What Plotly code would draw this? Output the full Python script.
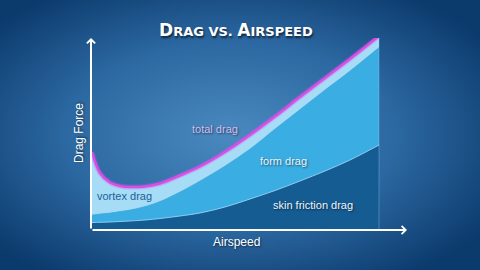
import base64
import numpy as np
import plotly.graph_objects as go

# ---- data (arbitrary units) ----
airspeed = [1, 9, 19, 29, 39, 54, 69, 89, 109, 134, 159, 184, 209, 234, 259, 288]
skin_friction = [7.5, 7.7, 8, 8.5, 9, 10, 11.5, 14, 17, 23, 31, 39.5, 49, 59, 70, 85]
form_drag = [7.5, 8.3, 9, 10, 11, 13.5, 17, 24, 32, 41, 50, 61.5, 71.5, 81, 89, 97.5]
vortex_drag = [63, 41, 30.5, 25.5, 23, 20, 18, 16.5, 14.5, 14, 14, 12.5, 12.5, 12, 12, 11.5]

total_drag = (np.array(skin_friction) + np.array(form_drag) + np.array(vortex_drag)).tolist()

W, H = 480, 270
ML, MR, MT, MB = 91, 73, 38, 40
PW, PH = W - ML - MR, H - MT - MB
X_MAX, Y_MAX = PW, PH

fig = go.Figure()

fig.add_trace(go.Scatter(x=airspeed, y=skin_friction, stackgroup="d", mode="lines",
                         line=dict(color="rgba(150,210,245,0.9)", width=1, shape="spline", smoothing=1),
                         fillcolor="#155c93", name="skin friction drag"))
fig.add_trace(go.Scatter(x=airspeed, y=form_drag, stackgroup="d", mode="lines",
                         line=dict(color="#3aade2", width=0.5, shape="spline", smoothing=1),
                         fillcolor="#3aade2", name="form drag"))
fig.add_trace(go.Scatter(x=airspeed, y=vortex_drag, stackgroup="d", mode="lines",
                         line=dict(color="#a6dcf6", width=0.5, shape="spline", smoothing=1),
                         fillcolor="#a6dcf6", name="vortex drag"))
# glow + total line
fig.add_trace(go.Scatter(x=airspeed, y=total_drag, mode="lines",
                         line=dict(color="rgba(220,80,240,0.3)", width=5, shape="spline", smoothing=1),
                         hoverinfo="skip"))
fig.add_trace(go.Scatter(x=airspeed, y=total_drag, mode="lines",
                         line=dict(color="#d94fe6", width=2.5, shape="spline", smoothing=1),
                         name="total drag"))

# faint right edge of the stacked areas
fig.add_shape(type="line", xref="x", yref="y", x0=airspeed[-1], x1=airspeed[-1],
              y0=0, y1=total_drag[-1], line=dict(color="rgba(150,210,245,0.35)", width=1))

svg = f"""<svg xmlns='http://www.w3.org/2000/svg' width='{W}' height='{H}' preserveAspectRatio='none'>
<defs><radialGradient id='g' cx='0.48' cy='0.5' r='0.64'>
<stop offset='0' stop-color='#4a8ac0'/>
<stop offset='0.55' stop-color='#2b67a0'/>
<stop offset='1' stop-color='#0b3a6c'/>
</radialGradient></defs>
<rect width='{W}' height='{H}' fill='url(#g)'/></svg>"""
src = "data:image/svg+xml;base64," + base64.b64encode(svg.encode()).decode()

fig.add_layout_image(dict(source=src, xref="paper", yref="paper",
                          x=-ML / PW, y=(PH + MT) / PH, sizex=W / PW, sizey=H / PH,
                          sizing="stretch", layer="below", xanchor="left", yanchor="top"))

shadow = "1px 1px 2px rgba(0,0,0,0.55)"
LF = "Liberation Sans, Arial, sans-serif"


def px(x):
    return x / PW


def py(y):
    return y / PH


def label(x, y, text, font, xanchor="center", **kw):
    return dict(x=px(x), y=py(y), xref="paper", yref="paper", text=text, showarrow=False,
                xanchor=xanchor, yanchor="middle", font=font, **kw)


anns = []
# axes with arrows
anns.append(dict(x=X_MAX, y=0, ax=0, ay=0, xref="x", yref="y", axref="x", ayref="y",
                 showarrow=True, arrowhead=4, arrowsize=0.8, arrowwidth=2, arrowcolor="white", text=""))
anns.append(dict(x=0, y=Y_MAX, ax=0, ay=0, xref="x", yref="y", axref="x", ayref="y",
                 showarrow=True, arrowhead=4, arrowsize=0.8, arrowwidth=2, arrowcolor="white", text=""))
# axis titles
anns.append(label(-12, 97, "Drag Force", dict(family=LF, size=12, color="white", shadow=shadow),
                  textangle=-90))
anns.append(label(145, -12, "Airspeed", dict(family=LF, size=12, color="white", shadow=shadow)))
# series labels
anns.append(label(124, 101, "total drag", dict(family=LF, size=11, color="#d2bdf0", shadow=shadow)))
anns.append(label(192, 69, "form drag", dict(family=LF, size=11, color="#eaf4fc", shadow=shadow)))
anns.append(label(4, 34, "vortex drag", dict(family=LF, size=11, color="#1d6096"), xanchor="left"))
anns.append(label(222, 25, "skin friction drag", dict(family=LF, size=11, color="#eef6fd", shadow=shadow)))
# title in small caps
big, small = 17, 13
title = (f"<span style='font-size:{big}px'>D</span><span style='font-size:{small}px'>RAG VS. </span>"
         f"<span style='font-size:{big}px'>A</span><span style='font-size:{small}px'>IRSPEED</span>")
anns.append(label(145, 200, f"<b>{title}</b>",
                  dict(family="DejaVu Sans, sans-serif", size=big, color="white",
                       shadow="1px 2px 2px rgba(0,0,0,0.6)")))

fig.update_layout(
    width=W, height=H, margin=dict(l=ML, r=MR, t=MT, b=MB),
    paper_bgcolor="#1d5790", plot_bgcolor="rgba(0,0,0,0)",
    showlegend=False, annotations=anns,
    xaxis=dict(range=[0, X_MAX], visible=False, fixedrange=True),
    yaxis=dict(range=[0, Y_MAX], visible=False, fixedrange=True),
)

fig.write_html("out.html", config={"displayModeBar": False})
